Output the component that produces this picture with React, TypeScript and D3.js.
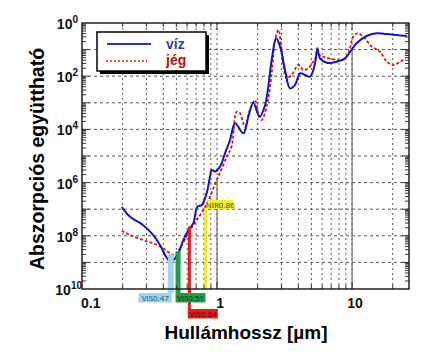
import React from "react";
import * as d3 from "d3";

// Water (víz) absorption data: wavelength [µm], coefficient
const waterWl = [0.197, 0.227, 0.284, 0.337, 0.378, 0.412, 0.436, 0.456, 0.517, 0.563, 0.613, 0.668, 0.715, 0.771, 0.839, 0.887, 0.914, 0.967, 1.052, 1.146, 1.248, 1.36, 1.566, 1.706, 1.857, 2.06, 2.27, 2.54, 2.74, 2.93, 3.19, 3.47, 3.78, 4.12, 4.49, 4.89, 5.32, 5.53, 5.79, 6.5, 7.7, 8.87, 9.67, 10.8, 12.8, 15.2, 18.1, 21.4, 25.4];
const waterK = [1.2e-7, 5.2e-8, 2.5e-8, 1.07e-8, 4.5e-9, 1.9e-9, 1.23e-9, 1.04e-9, 2.2e-9, 6.9e-9, 1.65e-8, 3.0e-8, 1.24e-7, 1.44e-7, 4.1e-7, 1.66e-6, 3.0e-6, 2.6e-6, 4.0e-6, 1.26e-5, 4.0e-5, 1.7e-4, 7.1e-5, 3.0e-4, 1.0e-3, 3.0e-4, 8.3e-4, 4.1e-2, 0.266, 0.129, 0.017, 3.5e-3, 4.7e-3, 0.0129, 0.0111, 9.6e-3, 0.0305, 0.112, 0.047, 0.032, 0.035, 0.047, 0.083, 0.172, 0.324, 0.41, 0.386, 0.354, 0.324];

// Ice (jég) absorption data
const iceWl = [0.197, 0.227, 0.284, 0.337, 0.4, 0.449, 0.489, 0.548, 0.631, 0.707, 0.792, 0.887, 0.994, 1.052, 1.18, 1.28, 1.4, 1.48, 1.61, 1.75, 1.91, 2.02, 2.14, 2.33, 2.54, 2.69, 2.85, 3.01, 3.28, 3.57, 4.0, 4.36, 4.75, 5.17, 5.63, 6.13, 7.27, 8.62, 9.39, 10.2, 10.9, 12.1, 14.0, 16.1, 18.1, 20.2, 22.7, 24.7];
const iceK = [1.55e-8, 1.07e-8, 6.9e-9, 5.2e-9, 3.4e-9, 2.2e-9, 1.9e-9, 4.5e-9, 1.65e-8, 3.9e-8, 9.3e-8, 2.95e-7, 1.26e-6, 2.3e-6, 9.4e-6, 2.24e-5, 4.6e-4, 4.0e-4, 1.26e-4, 5.4e-4, 1.27e-3, 4.0e-4, 2.25e-4, 7.1e-4, 0.0129, 0.23, 0.55, 0.097, 8.3e-3, 0.0111, 0.0264, 0.0171, 0.02, 0.035, 0.063, 0.054, 0.043, 0.041, 0.073, 0.305, 0.41, 0.305, 0.129, 0.083, 0.035, 0.026, 0.035, 0.047];

const xTickValues = [0.1, 1, 10];
const xTickLabels = ["0.1", "1", "10"];
const yTickExps = [0, 2, 4, 6, 8, 10];
const legendLabels = ["víz", "jég"];
const bandLabels = ["VIS0.47", "VIS0.51", "VIS0.64", "NIR0.86"];
const bandWl = [0.47, 0.51, 0.64, 0.86];
const dropLineWl = [1, 10];
const xTitle = "Hullámhossz [µm]";
const yTitle = "Abszorpciós együttható";

function interpLog(wls: number[], ks: number[], w: number) {
  for (let i = 0; i < wls.length - 1; i++) {
    if (w >= wls[i] && w <= wls[i + 1]) {
      const t = (Math.log(w) - Math.log(wls[i])) / (Math.log(wls[i + 1]) - Math.log(wls[i]));
      return Math.exp(Math.log(ks[i]) * (1 - t) + Math.log(ks[i + 1]) * t);
    }
  }
  return ks[ks.length - 1];
}

export default function App() {
  const W = 442, H = 358;
  const L = 82, R = 409, T = 23, B = 289;
  const x = d3.scaleLog().domain([0.1, 26.4]).range([L, R]);
  const y = d3.scaleLog().domain([1e-10, 1]).range([B, T]);
  const mk = (wls: number[], ks: number[]) =>
    d3
      .line<number>()
      .x((d, i) => x(wls[i]))
      .y((d) => y(d))
      .curve(d3.curveCatmullRom.alpha(0.5))(ks) || "";
  const waterPath = mk(waterWl, waterK);
  const icePath = mk(iceWl, iceK);

  const xMinor: number[] = [];
  for (let k = -1; k <= 1; k++) for (let m = 1; m <= 9; m++) {
    const v = m * Math.pow(10, k);
    if (v > 0.1 && v < 26.4) xMinor.push(v);
  }
  const yMinor: number[] = [];
  for (let k = -10; k < 0; k++) for (let m = 1; m <= 9; m++) {
    const v = m * Math.pow(10, k);
    if (v > 1e-10 && v < 1) yMinor.push(v);
  }
  const yGrid = d3.range(-9, 0).map((e) => Math.pow(10, e));
  const xGrid = xMinor;

  const gridColor = "#555";
  const font = "'Liberation Sans', Arial, sans-serif";
  const lblFont = "'Open Sans', sans-serif";
  const topAt = (w: number) => y(Math.max(interpLog(waterWl, waterK, w), interpLog(iceWl, iceK, w)));
  const lowAt = (w: number) => y(Math.min(interpLog(waterWl, waterK, w), interpLog(iceWl, iceK, w)));

  const bx = bandWl.map((w) => x(w));

  return (
    <svg width={W} height={H} style={{ position: "absolute", left: 0, top: 0, background: "#fff" }}>
      <rect x={0} y={0} width={W} height={H} fill="#fff" />
      {/* grid */}
      {yGrid.map((v, i) => (
        <line key={"gy" + i} x1={L} x2={R} y1={y(v)} y2={y(v)} stroke={gridColor} strokeWidth={1} strokeDasharray="3,3" />
      ))}
      {xGrid.map((v, i) => (
        <line key={"gx" + i} x1={x(v)} x2={x(v)} y1={T} y2={B} stroke={gridColor} strokeWidth={1} strokeDasharray="2,3" />
      ))}
      {dropLineWl.map((w, i) => (
        <line key={"dl" + i} x1={x(w)} x2={x(w)} y1={lowAt(w)} y2={B} stroke="#777" strokeWidth={1.3} />
      ))}
      {/* curves */}
      <path d={icePath} fill="none" stroke="#d81515" strokeWidth={1.8} strokeDasharray="3,2" />
      <path d={waterPath} fill="none" stroke="#1515c0" strokeWidth={2} />
      {/* bands */}
      <rect x={bx[2] - 3} y={topAt(bandWl[2])} width={3} height={318 - topAt(bandWl[2])} fill="#e01b1b" />
      <rect x={bx[2] - 3} y={309} width={30} height={9.5} fill="#e01b1b" />
      <text x={bx[2] + 12} y={316.5} fontSize={8} fontFamily={lblFont} fill="#5a0505" textAnchor="middle">{bandLabels[2]}</text>

      <rect x={bx[0] - 5} y={topAt(bandWl[0])} width={6} height={293 - topAt(bandWl[0])} fill="#9fd5ea" />
      <rect x={bx[0] - 34} y={293} width={33} height={9.5} fill="#9fd5ea" />
      <text x={bx[0] - 17.5} y={300.5} fontSize={8} fontFamily={lblFont} fill="#1d5a7a" textAnchor="middle">{bandLabels[0]}</text>

      <rect x={bx[1] - 2} y={topAt(bandWl[1])} width={5} height={293 - topAt(bandWl[1])} fill="#1f9e45" />
      <rect x={bx[1] - 2} y={293} width={30} height={9.5} fill="#1f9e45" />
      <text x={bx[1] + 13} y={300.5} fontSize={8} fontFamily={lblFont} fill="#0c2e14" textAnchor="middle">{bandLabels[1]}</text>

      <rect x={bx[3] - 4} y={208} width={2.8} height={B - 208} fill="#f2ea1e" />
      <rect x={bx[3] - 1} y={200} width={26} height={9} fill="#f5ef2a" />
      <text x={bx[3] + 12} y={207.5} fontSize={8} fontFamily={lblFont} fill="#333" textAnchor="middle">{bandLabels[3]}</text>

      {/* ticks */}
      {yMinor.map((v, i) => {
        const major = Math.abs(Math.log10(v) - Math.round(Math.log10(v))) < 1e-9;
        const len = major ? 7 : 4;
        return (
          <g key={"yt" + i}>
            <line x1={L} x2={L + len} y1={y(v)} y2={y(v)} stroke="#333" strokeWidth={1} />
            <line x1={R} x2={R - len} y1={y(v)} y2={y(v)} stroke="#333" strokeWidth={1} />
          </g>
        );
      })}
      {xMinor.map((v, i) => {
        const major = Math.abs(Math.log10(v) - Math.round(Math.log10(v))) < 1e-9;
        const len = major ? 7 : 4;
        return (
          <g key={"xt" + i}>
            <line x1={x(v)} x2={x(v)} y1={B} y2={B - len} stroke="#333" strokeWidth={1} />
            <line x1={x(v)} x2={x(v)} y1={T} y2={T + len} stroke="#333" strokeWidth={1} />
          </g>
        );
      })}
      {/* frame */}
      <rect x={L} y={T} width={R - L} height={B - T} fill="none" stroke="#222" strokeWidth={1.5} />

      {/* legend */}
      <rect x={100} y={35} width={109} height={39} fill="#000" />
      <rect x={97} y={32} width={109} height={39} fill="#fff" stroke="#000" strokeWidth={1.5} />
      <line x1={107} x2={151} y1={44} y2={44} stroke="#3030c0" strokeWidth={2} />
      <line x1={106} x2={147} y1={61} y2={61} stroke="#d81515" strokeWidth={1.5} strokeDasharray="2,2" />
      <text x={166} y={49} fontSize={14} fontWeight="bold" fontFamily={font} fill="#3a3ab8">{legendLabels[0]}</text>
      <text x={166} y={65} fontSize={14} fontWeight="bold" fontFamily={font} fill="#b01010">{legendLabels[1]}</text>

      {/* x tick labels */}
      {xTickValues.map((v, i) => (
        <text key={"xl" + i} x={i === 0 ? x(v) - 1 : x(v) + 3} y={308} fontSize={14} fontWeight="bold" fontFamily={font} textAnchor={i === 0 ? "start" : "middle"} fill="#111">
          {xTickLabels[i]}
        </text>
      ))}
      {/* y tick labels */}
      {yTickExps.map((e, i) => (
        <text key={"yl" + i} x={e >= 10 ? 82 : 78} y={y(Math.pow(10, -e)) + 6} fontSize={14} fontWeight="bold" fontFamily={font} textAnchor="end" fill="#111">
          <tspan>10</tspan>
          <tspan fontSize={10} dy={-6}>{String(e)}</tspan>
        </text>
      ))}
      {/* titles */}
      <text x={246} y={339} fontSize={19} fontWeight="bold" fontFamily={font} textAnchor="middle" fill="#000">{xTitle}</text>
      <text transform="translate(44,159) rotate(-90)" fontSize={19.5} fontWeight="bold" fontFamily={font} textAnchor="middle" fill="#000">{yTitle}</text>
    </svg>
  );
}
